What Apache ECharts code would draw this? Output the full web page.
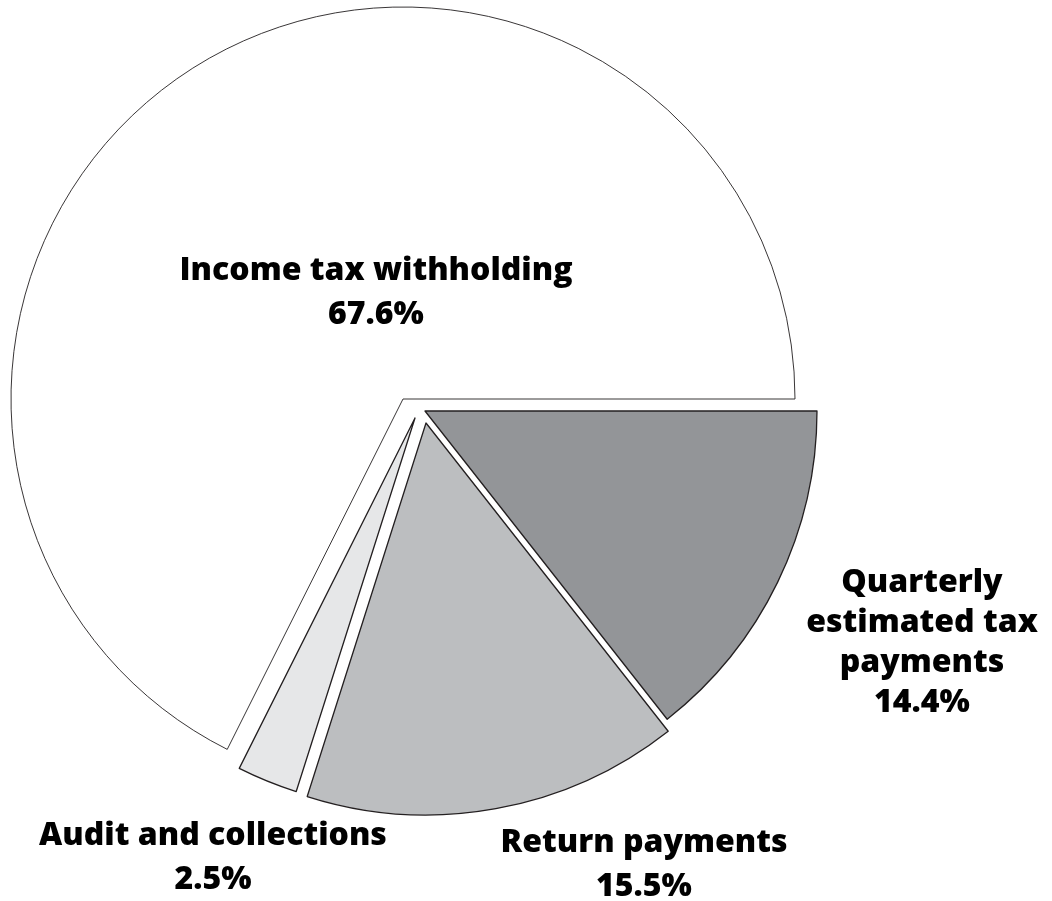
<!DOCTYPE html>
<html><head><meta charset="utf-8">
<script src="https://cdn.jsdelivr.net/npm/echarts@6/dist/echarts.min.js"></script>
<style>html,body{margin:0;padding:0;background:#fff}#c{width:1052px;height:901px}</style>
</head><body><div id="c"></div>
<script>
// Data
const categories = ['Income tax withholding', 'Quarterly\nestimated tax\npayments', 'Return payments', 'Audit and collections'];
const values = [67.6, 14.4, 15.5, 2.5];
// Order of slices clockwise from 3 o'clock
const pieOrder = [1, 2, 3, 0];

// Styles / layout
const sliceColors = ['#ffffff', '#939598', '#bcbec0', '#e6e7e8'];
const centers = [[403, 399], [425, 411], [426, 423], [415, 418]];
const labelPos = [[376, 293], [922, 643], [644, 865], [213, 858]];
const lineHeights = [44, 40, 44, 44];

function makeSeries(k) {
  return {
    type: 'pie',
    center: centers[k],
    radius: 392,
    startAngle: 0,
    clockwise: true,
    animation: false,
    silent: true,
    avoidLabelOverlap: false,
    emphasis: { disabled: true },
    label: { show: false },
    labelLine: { show: false },
    z: k === 0 ? 1 : 2,
    data: pieOrder.map(function (j) {
      const vis = j === k;
      return {
        name: categories[j],
        value: values[j],
        itemStyle: vis ? { color: sliceColors[j], borderColor: '#231f20', borderWidth: j === 0 ? 0.9 : 1.3 }
                       : { color: 'rgba(0,0,0,0)', borderWidth: 0 },
        label: vis ? {
          show: true, position: 'inside', formatter: '{b}\n{c}%',
          fontFamily: 'Open Sans', fontWeight: 800, fontSize: 32,
          lineHeight: lineHeights[k], color: '#000', align: 'center'
        } : { show: false },
        labelLine: { show: false }
      };
    }),
    labelLayout: { x: labelPos[k][0], y: labelPos[k][1], align: 'center', verticalAlign: 'middle' }
  };
}

const chart = echarts.init(document.getElementById('c'), null, { renderer: 'canvas' });
chart.setOption({
  backgroundColor: '#ffffff',
  animation: false,
  series: [0, 1, 2, 3].map(makeSeries)
});
</script>
</body></html>
